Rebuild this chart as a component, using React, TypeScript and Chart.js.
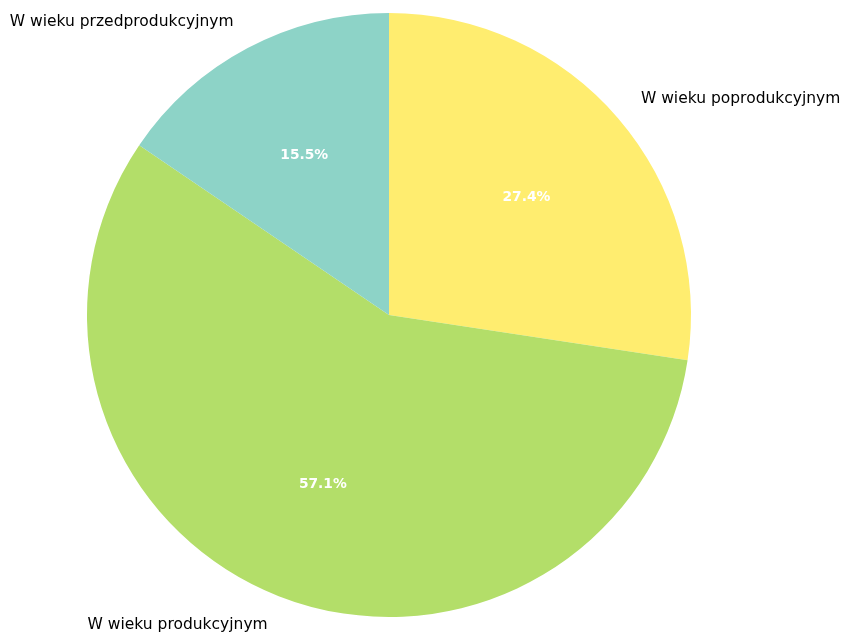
import React, { useEffect, useRef } from "react";
import { Chart, registerables } from "chart.js";

Chart.register(...registerables);

const categories = ["W wieku poprodukcyjnym", "W wieku produkcyjnym", "W wieku przedprodukcyjnym"];
const values = [27.4, 57.1, 15.5];
const colors = ["#FFED6F", "#B3DE69", "#8DD3C7"];

const labelPlugin = {
  id: "pieLabels",
  afterDatasetsDraw(chart: any) {
    const ctx = chart.ctx;
    const meta = chart.getDatasetMeta(0);
    const total = values.reduce((a, b) => a + b, 0);
    ctx.save();
    meta.data.forEach((arc: any, i: number) => {
      const { x, y, startAngle, endAngle, outerRadius } = arc.getProps(
        ["x", "y", "startAngle", "endAngle", "outerRadius"],
        true
      );
      const mid = (startAngle + endAngle) / 2;
      const cx = Math.cos(mid);
      const cy = Math.sin(mid);
      // outer label
      const lx = x + cx * outerRadius * 1.1;
      const ly = y + cy * outerRadius * 1.1 + 1;
      ctx.font = "15.5px 'DejaVu Sans'";
      ctx.fillStyle = "#000000";
      ctx.textBaseline = "middle";
      ctx.textAlign = cx >= 0 ? "left" : "right";
      ctx.fillText(categories[i], lx, ly);
      // percent label
      const px = x + cx * outerRadius * 0.6;
      const py = y + cy * outerRadius * 0.6 + 1;
      ctx.font = "bold 13.8px 'DejaVu Sans'";
      ctx.fillStyle = "#ffffff";
      ctx.textAlign = "center";
      ctx.fillText(((values[i] / total) * 100).toFixed(1) + "%", px, py);
    });
    ctx.restore();
  },
};

export default function App() {
  const ref = useRef<HTMLCanvasElement>(null);
  useEffect(() => {
    if (!ref.current) return;
    const chart = new Chart(ref.current, {
      type: "pie",
      data: {
        labels: categories,
        datasets: [
          {
            data: values,
            backgroundColor: colors,
            borderWidth: 0,
          },
        ],
      },
      options: {
        responsive: false,
        animation: false,
        events: [],
        layout: { padding: { top: 13, bottom: 15, left: 87, right: 150 } },
        plugins: {
          legend: { display: false },
          tooltip: { enabled: false },
        },
      },
      plugins: [labelPlugin],
    });
    return () => chart.destroy();
  }, []);
  return (
    <div style={{ position: "absolute", left: 0, top: 0, width: 841, height: 632, background: "#fff" }}>
      <canvas ref={ref} width={841} height={632} style={{ width: 841, height: 632 }} />
    </div>
  );
}
